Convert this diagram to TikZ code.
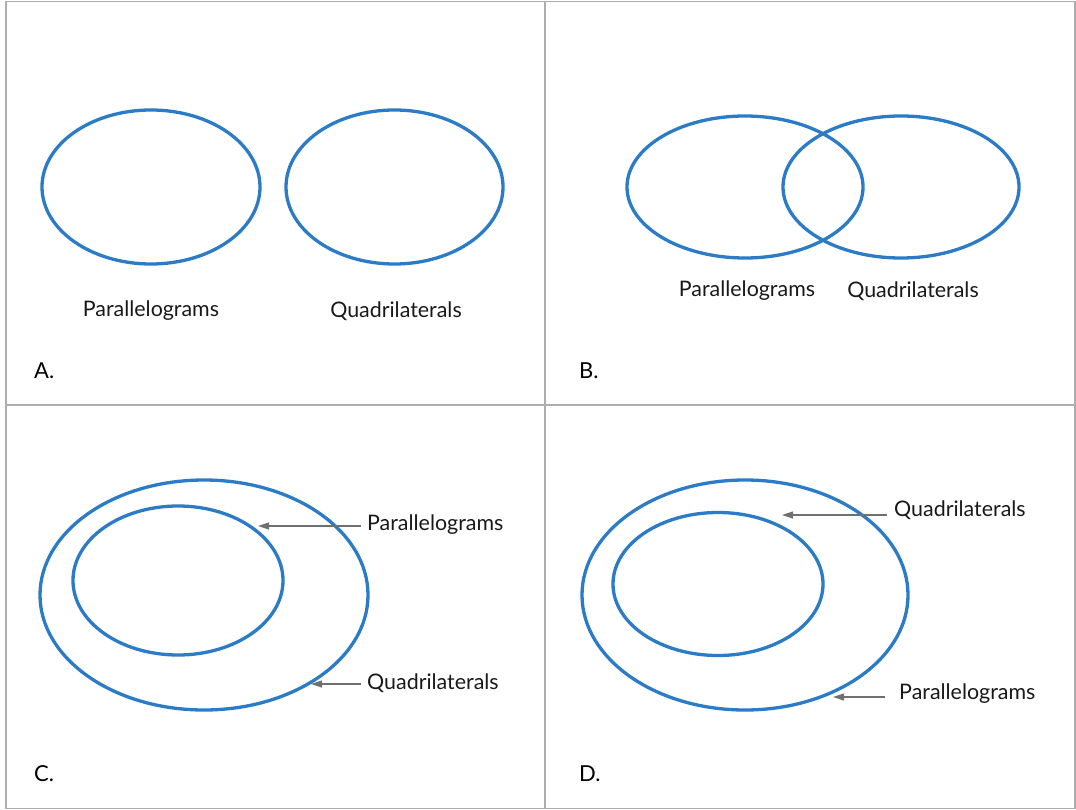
\documentclass[tikz,border=0pt]{standalone}
\usepackage{fontspec}
\setmainfont{Lato}
\usetikzlibrary{arrows.meta,shapes.geometric}
\definecolor{vblue}{HTML}{2B7BC6}
\definecolor{frame}{HTML}{ADADAD}
\definecolor{arrowgray}{HTML}{707070}
\tikzset{
  venn/.style={draw=vblue, line width=3.3pt, ellipse, inner sep=0pt},
  lbl/.style={font=\fontsize{21.4}{25}\selectfont, inner sep=0pt, text=black!90},
  panel/.style={font=\fontsize{22}{25}\selectfont, inner sep=0pt, anchor=west},
  pointer/.style={draw=arrowgray, line width=1.2pt, -{Triangle[length=11pt,width=7pt]}},
  gridline/.style={draw=frame, line width=1.6pt}
}
\begin{document}
\begin{tikzpicture}[x=1pt,y=-1pt]
\useasboundingbox (0,0) rectangle (1076,810);
% frame
\draw[gridline] (6,1.5) rectangle (1075,808.5);
\draw[gridline] (545,1.5) -- (545,808.5);
\draw[gridline] (6,405) -- (1075,405);

% Panel A
\node[venn, minimum width=218pt, minimum height=154pt] (a1) at (151,187) {};
\node[venn, minimum width=217pt, minimum height=154pt] (a2) at (394.5,187) {};
\node[lbl] (apar) at (151,311) {Parallelograms};
\node[lbl] (aquad) at (396,311) {Quadrilaterals};
\node[panel] (la) at (34,371) {A.};

% Panel B
\node[venn, minimum width=236pt, minimum height=142pt] (b1) at (745,187) {};
\node[venn, minimum width=236pt, minimum height=142pt] (b2) at (901,187) {};
\node[lbl] (bpar) at (747,291) {Parallelograms};
\node[lbl] (bquad) at (913,291) {Quadrilaterals};
\node[panel] (lb) at (579,371) {B.};

% Panel C
\node[venn, minimum width=328pt, minimum height=230pt] (c1) at (204,595) {};
\node[venn, minimum width=210pt, minimum height=149pt] (c2) at (178,580.5) {};
\node[lbl, anchor=west] (cpar) at (367,525) {Parallelograms};
\node[lbl, anchor=west] (cquad) at (367,683) {Quadrilaterals};
\coordinate (cpt) at (258,526);
\coordinate (cqt) at (311,684);
\draw[pointer] (361,526) -- (cpt);
\draw[pointer] (361,684) -- (cqt);
\node[panel] (lc) at (34,774) {C.};

% Panel D
\node[venn, minimum width=326pt, minimum height=230pt] (d1) at (745,595) {};
\node[venn, minimum width=210pt, minimum height=143pt] (d2) at (718,584) {};
\node[lbl, anchor=west] (dquad) at (894,510) {Quadrilaterals};
\node[lbl, anchor=west] (dpar) at (899,694) {Parallelograms};
\coordinate (dqt) at (782,515);
\coordinate (dpt) at (833,697);
\draw[pointer] (887,515) -- (dqt);
\draw[pointer] (885,697) -- (dpt);
\node[panel] (ld) at (579,774) {D.};
\end{tikzpicture}
\end{document}
